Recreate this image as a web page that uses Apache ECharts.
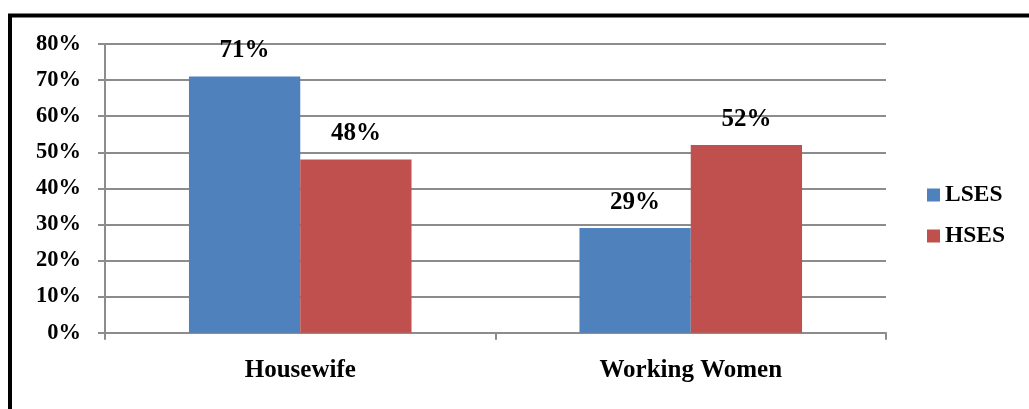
<!DOCTYPE html>
<html>
<head>
<meta charset="utf-8">
<style>
  html, body { margin: 0; padding: 0; background: #fff; }
  #chart { width: 1029px; height: 409px; }
</style>
<script src="https://cdn.jsdelivr.net/npm/echarts@6/dist/echarts.min.js"></script>
</head>
<body>
<div id="chart"></div>
<script>
// Share of women by occupation, split by socio-economic status
const categories = ['Housewife', 'Working Women'];
const lsesValues = [71, 29];
const hsesValues = [48, 52];
const seriesNames = ['LSES', 'HSES'];
const yTicks = [0, 10, 20, 30, 40, 50, 60, 70, 80];

const FONT = '"Liberation Serif", "Times New Roman", serif';
const GRID_COLOR = '#8c8c8c';

const chart = echarts.init(document.getElementById('chart'), null, { renderer: 'canvas' });

const labelStyle = {
  show: true,
  position: 'top',
  distance: 13,
  formatter: p => p.value + '%',
  fontFamily: FONT,
  fontWeight: 'bold',
  fontSize: 25,
  color: '#000'
};

chart.setOption({
  animation: false,
  backgroundColor: '#fff',
  graphic: [{
    type: 'rect',
    shape: { x: 10, y: 15.5, width: 1200, height: 1000 },
    style: { fill: 'none', stroke: '#000', lineWidth: 4 },
    silent: true
  }],
  grid: { left: 105, top: 44, width: 781, height: 288.7 },
  legend: {
    orient: 'vertical',
    left: 927,
    top: 183,
    padding: 0,
    itemWidth: 13,
    itemHeight: 13,
    itemGap: 17,
    icon: 'rect',
    data: seriesNames,
    textStyle: { fontFamily: FONT, fontWeight: 'bold', fontSize: 23.5, color: '#000' }
  },
  xAxis: {
    type: 'category',
    data: categories,
    axisLine: { lineStyle: { color: GRID_COLOR, width: 2 } },
    axisTick: { show: true, length: 7, lineStyle: { color: GRID_COLOR, width: 2 } },
    axisLabel: { margin: 25, fontFamily: FONT, fontWeight: 'bold', fontSize: 25, color: '#000' }
  },
  yAxis: {
    type: 'value',
    min: yTicks[0],
    max: yTicks[yTicks.length - 1],
    interval: yTicks[1] - yTicks[0],
    axisLine: { show: true, lineStyle: { color: GRID_COLOR, width: 2 } },
    axisTick: { show: true, length: 7, lineStyle: { color: GRID_COLOR, width: 2 } },
    splitLine: { show: true, lineStyle: { color: GRID_COLOR, width: 2 } },
    axisLabel: {
      margin: 24,
      formatter: v => v + '%',
      fontFamily: FONT, fontWeight: 'bold', fontSize: 22.5, color: '#000'
    }
  },
  series: [
    {
      name: seriesNames[0], type: 'bar', data: lsesValues,
      barGap: '0%', barCategoryGap: '43%',
      itemStyle: { color: '#4F81BD' },
      label: labelStyle
    },
    {
      name: seriesNames[1], type: 'bar', data: hsesValues,
      barGap: '0%', barCategoryGap: '43%',
      itemStyle: { color: '#C0504D' },
      label: labelStyle
    }
  ]
});
</script>
</body>
</html>
